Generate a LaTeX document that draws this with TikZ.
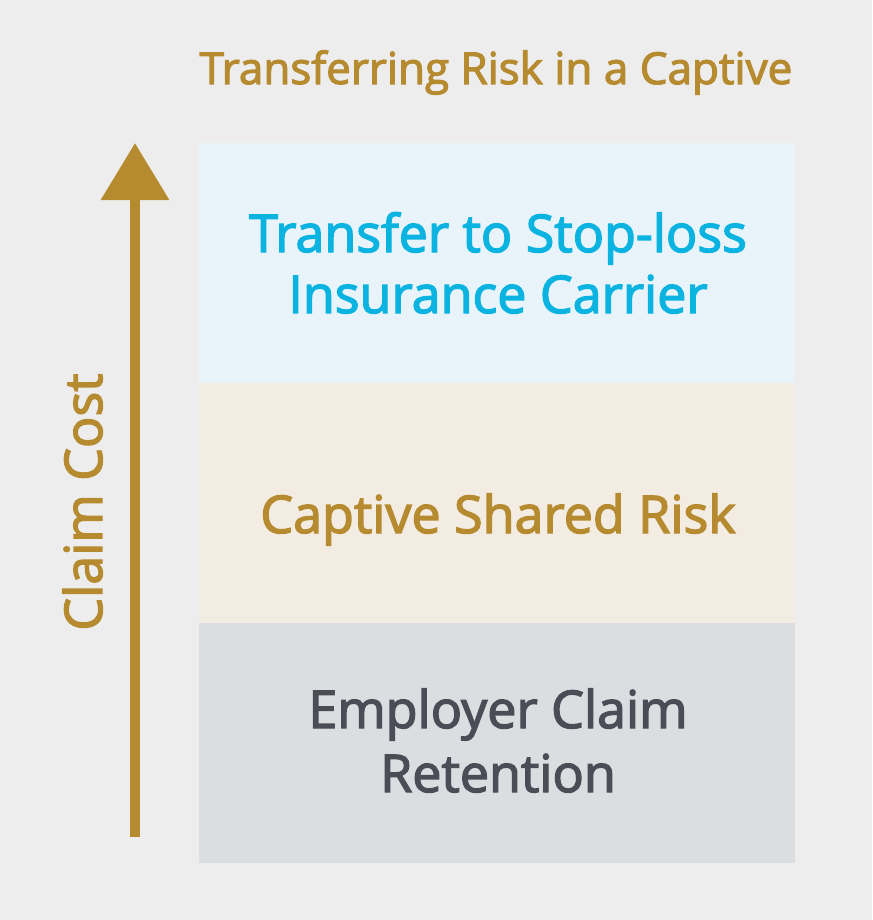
\documentclass[tikz,border=0pt]{standalone}
\usepackage{fontspec}
\setmainfont{Open Sans}[FakeBold=2.6]
\usetikzlibrary{arrows.meta}
\definecolor{bg}{HTML}{EDEDED}
\definecolor{gold}{HTML}{B68A2F}
\definecolor{topbox}{HTML}{E9F4FA}
\definecolor{midbox}{HTML}{F3ECE2}
\definecolor{botbox}{HTML}{DCDDE1}
\definecolor{bluetxt}{HTML}{0BB3E0}
\definecolor{darktxt}{HTML}{4A4D55}
\tikzset{
  layer/.style={draw=none, minimum width=596pt, minimum height=240pt, inner sep=0pt, anchor=north west},
  layertext/.style={anchor=base, inner sep=0pt, font=\fontsize{52}{61}\selectfont},
}
\begin{document}
\begin{tikzpicture}[x=1pt,y=-1pt]
\fill[bg] (0,0) rectangle (872,920);
\useasboundingbox (0,0) rectangle (872,920);
\node[anchor=base, inner sep=0pt, text=gold, font=\fontsize{44}{50}\selectfont] (title) at (496,84) {Transferring Risk in a Captive};
\node[layer, fill=topbox] (top) at (199,143) {};
\node[layer, fill=midbox] (mid) at (199,383) {};
\node[layer, fill=botbox] (bot) at (199,623) {};
\node[layertext, text=bluetxt] (t1) at (498,252) {Transfer to Stop-loss};
\node[layertext, text=bluetxt] (t2) at (498,313) {Insurance Carrier};
\node[layertext, text=gold] (m1) at (498,533) {Captive Shared Risk};
\node[layertext, text=darktxt] (b1) at (498,728) {Employer Claim};
\node[layertext, text=darktxt] (b2) at (498,792) {Retention};
\coordinate (abot) at (135,837);
\coordinate (atop) at (135,143);
\draw[gold, line width=10pt, -{Triangle[width=66pt,length=57pt]}] (abot) -- (atop);
\node[rotate=90, anchor=base, text=gold, font=\fontsize{52}{56}\selectfont, inner sep=0pt] (cc) at (102,502) {Claim Cost};
\end{tikzpicture}
\end{document}
